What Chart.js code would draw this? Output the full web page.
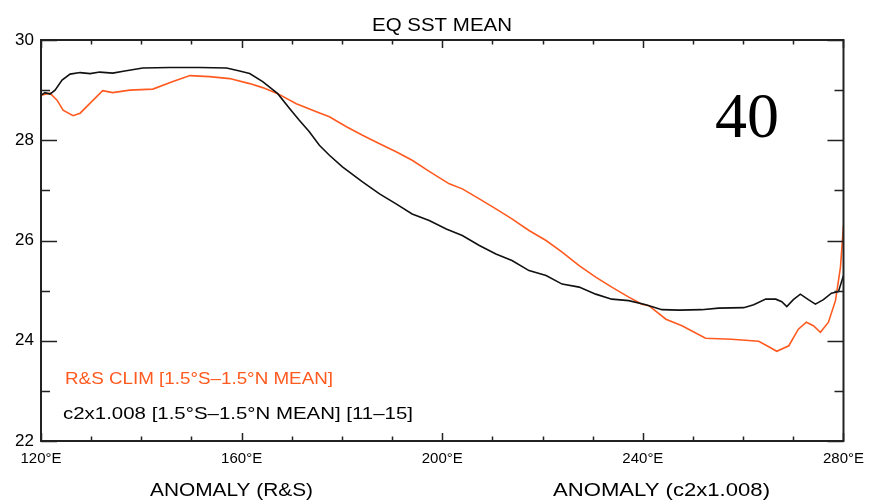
<!DOCTYPE html>
<html>
<head>
<meta charset="utf-8">
<script src="https://cdn.jsdelivr.net/npm/chart.js@4.4.1/dist/chart.umd.min.js"></script>
<style>
  html, body { margin: 0; padding: 0; background: #fff; }
  #wrap { width: 873px; height: 500px; }
</style>
</head>
<body>
<div id="wrap"><canvas id="c" width="873" height="500"></canvas></div>
<script>
// ---- data ----
const titleText = 'EQ SST MEAN';
const panelLabel = '40';
const xTickValues = [120, 160, 200, 240, 280];
const yTickValues = [22, 24, 26, 28, 30];
const seriesNames = ['R&S CLIM [1.5°S\u20131.5°N MEAN]', 'c2x1.008 [1.5°S\u20131.5°N MEAN] [11\u201315]'];
const bottomLabels = ['ANOMALY (R&S)', 'ANOMALY (c2x1.008)'];

const lonRS = [120.0, 121.8, 123.2, 124.4, 126.4, 127.8, 129.8, 132.3, 134.3, 137.7, 142.3, 146.3, 149.7, 153.6, 157.6,
  161.6, 164.2, 167.2, 170.9, 174.9, 177.5, 180.9, 184.1, 187.5, 190.8, 194.0, 197.4, 201.4, 204.0, 207.4, 210.7,
  213.9, 217.3, 220.7, 223.9, 227.3, 230.6, 233.8, 237.2, 239.8, 241.2, 244.6, 247.8, 252.5, 257.7, 263.1, 265.1,
  266.7, 269.1, 271.0, 272.6, 274.0, 275.4, 277.0, 278.4, 279.4, 280.0];
const sstRS = [28.90, 28.94, 28.80, 28.60, 28.49, 28.54, 28.74, 28.99, 28.95, 29.00, 29.02, 29.17, 29.29, 29.27, 29.23,
  29.13, 29.05, 28.93, 28.73, 28.57, 28.47, 28.27, 28.10, 27.93, 27.77, 27.60, 27.38, 27.13, 27.03, 26.83, 26.63,
  26.43, 26.20, 26.00, 25.77, 25.50, 25.27, 25.07, 24.87, 24.73, 24.70, 24.43, 24.30, 24.05, 24.03, 23.99, 23.88,
  23.79, 23.90, 24.23, 24.37, 24.30, 24.17, 24.37, 24.80, 25.47, 26.30];

const lonC2x = [120.0, 120.8, 121.8, 122.8, 124.2, 125.8, 127.8, 129.8, 131.7, 134.3, 136.7, 140.3, 145.7, 151.6, 157.0,
  159.6, 161.6, 164.2, 167.2, 169.6, 171.5, 173.5, 175.5, 177.5, 180.1, 184.1, 187.5, 190.8, 194.0, 197.4, 200.8,
  204.0, 207.4, 210.7, 213.9, 217.3, 220.7, 223.9, 227.3, 230.6, 233.8, 237.2, 240.6, 243.8, 247.2, 251.7, 255.1,
  260.1, 262.1, 264.5, 266.5, 267.7, 268.7, 270.0, 271.4, 273.0, 274.4, 276.0, 277.6, 279.0, 280.0];
const sstC2x = [28.90, 28.95, 28.92, 29.00, 29.20, 29.32, 29.35, 29.33, 29.36, 29.34, 29.38, 29.44, 29.45, 29.45, 29.44,
  29.38, 29.33, 29.17, 28.93, 28.63, 28.40, 28.17, 27.90, 27.70, 27.47, 27.17, 26.93, 26.73, 26.53, 26.40, 26.23,
  26.10, 25.90, 25.73, 25.60, 25.40, 25.30, 25.13, 25.07, 24.93, 24.83, 24.80, 24.72, 24.62, 24.61, 24.62, 24.65,
  24.66, 24.72, 24.83, 24.83, 24.78, 24.68, 24.82, 24.93, 24.82, 24.73, 24.82, 24.95, 24.98, 25.30];

const ORANGE = '#ff5a1f';
const BLACK = '#111111';
const AXIS = '#222222';

function toPoints(xs, ys) { return xs.map((x, i) => ({ x: x, y: ys[i] })); }

// draw text starting at `left`, stretched horizontally to `width` (mimics the wide vector font)
function fitText(ctx, text, left, baseline, width) {
  const w = ctx.measureText(text).width;
  ctx.save();
  ctx.textAlign = 'left';
  ctx.translate(left, baseline);
  ctx.scale(width / w, 1);
  ctx.fillText(text, 0, 0);
  ctx.restore();
}

const decorPlugin = {
  id: 'decor',
  afterDraw(chart) {
    const ctx = chart.ctx;
    const a = chart.chartArea;
    const xs = chart.scales.x, ys = chart.scales.y;
    ctx.save();
    // frame
    ctx.strokeStyle = AXIS;
    ctx.lineWidth = 2;
    ctx.strokeRect(a.left, a.top, a.right - a.left, a.bottom - a.top);
    // x ticks (inward, top and bottom)
    ctx.lineWidth = 1.5;
    for (let v = xs.min; v <= xs.max + 0.001; v += 10) {
      const px = Math.round(xs.getPixelForValue(v)) + 0.5;
      const len = (v % 40 === 0) ? 8 : 4.5;
      ctx.beginPath();
      ctx.moveTo(px, a.bottom); ctx.lineTo(px, a.bottom - len);
      ctx.moveTo(px, a.top); ctx.lineTo(px, a.top + len);
      ctx.stroke();
    }
    // y ticks (inward, left and right)
    for (let v = ys.min; v <= ys.max + 0.001; v += 1) {
      const py = Math.round(ys.getPixelForValue(v)) + 0.5;
      const len = (v % 2 === 0) ? 16 : 9;
      ctx.beginPath();
      ctx.moveTo(a.left, py); ctx.lineTo(a.left + len, py);
      ctx.moveTo(a.right, py); ctx.lineTo(a.right - len, py);
      ctx.stroke();
    }
    ctx.textBaseline = 'alphabetic';
    // title
    ctx.fillStyle = '#000';
    ctx.font = '19px "Liberation Sans", Arial, sans-serif';
    fitText(ctx, titleText, 372, 31, 140);
    // panel number
    ctx.textAlign = 'left';
    ctx.font = '64px "Liberation Serif", "Times New Roman", serif';
    ctx.fillText(panelLabel, 715, 137);
    // in-plot legend texts
    ctx.font = '17px "Liberation Sans", Arial, sans-serif';
    ctx.fillStyle = ORANGE;
    fitText(ctx, seriesNames[0], 65, 384, 268);
    ctx.fillStyle = '#000';
    fitText(ctx, seriesNames[1], 63, 419, 350);
    // bottom labels
    ctx.font = '19px "Liberation Sans", Arial, sans-serif';
    fitText(ctx, bottomLabels[0], 150, 496, 163);
    fitText(ctx, bottomLabels[1], 553, 496, 217);
    ctx.restore();
  }
};

new Chart(document.getElementById('c'), {
  type: 'line',
  data: {
    datasets: [
      { label: seriesNames[1], data: toPoints(lonC2x, sstC2x), borderColor: BLACK, borderWidth: 1.6,
        pointRadius: 0, tension: 0, fill: false, order: 1 },
      { label: seriesNames[0], data: toPoints(lonRS, sstRS), borderColor: ORANGE, borderWidth: 1.6,
        pointRadius: 0, tension: 0, fill: false, order: 2 }
    ]
  },
  options: {
    responsive: false,
    animation: false,
    devicePixelRatio: 1,
    layout: { padding: { top: 40, right: 28, left: 0, bottom: 0 } },
    plugins: { legend: { display: false }, title: { display: false }, tooltip: { enabled: false } },
    scales: {
      x: {
        type: 'linear', min: 120, max: 280,
        afterFit(s) { s.height = 59; },
        afterBuildTicks(s) { s.ticks = xTickValues.map(v => ({ value: v })); },
        grid: { display: false, drawTicks: false },
        border: { display: false },
        ticks: { padding: 9, color: '#000', maxRotation: 0, autoSkip: false,
          font: { family: 'Liberation Sans', size: 15 },
          callback: v => v + '°E' }
      },
      y: {
        type: 'linear', min: 22, max: 30,
        afterFit(s) { s.width = 41; },
        afterBuildTicks(s) { s.ticks = yTickValues.map(v => ({ value: v })); },
        grid: { display: false, drawTicks: false },
        border: { display: false },
        ticks: { padding: 7, color: '#000',
          font: { family: 'Liberation Sans', size: 17 } }
      }
    }
  },
  plugins: [decorPlugin]
});
</script>
</body>
</html>
